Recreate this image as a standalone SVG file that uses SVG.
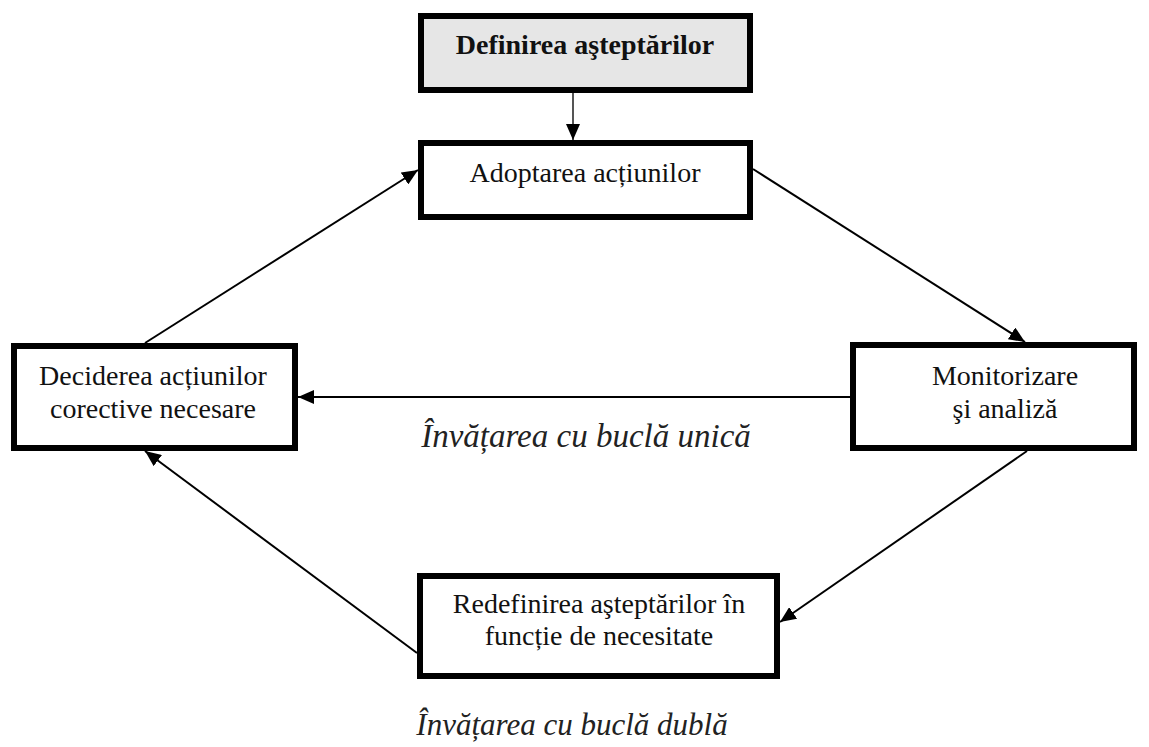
<svg xmlns="http://www.w3.org/2000/svg" width="1149" height="747" viewBox="0 0 1149 747">
<defs>
<marker id="arr" markerUnits="userSpaceOnUse" markerWidth="16" markerHeight="14" refX="16" refY="7" orient="auto">
<path d="M0,0 L16,7 L0,14 z" fill="#000"/>
</marker>
<style>
.box{fill:#fff;stroke:#000;stroke-width:6}
.gray{fill:#e6e6e6}
.t{font-family:"Liberation Serif","Times New Roman",serif;font-size:28px;fill:#111;text-anchor:middle}
.b{font-weight:bold}
.it{font-family:"Liberation Serif","Times New Roman",serif;font-style:italic;fill:#222;text-anchor:middle}
.c{stroke:#000;stroke-width:2;fill:none;marker-end:url(#arr)}
</style>
</defs>
<rect width="1149" height="747" fill="#fff"/>
<g id="connectors">
<line class="c" x1="573" y1="93" x2="573" y2="140" style="stroke:#555"/>
<line class="c" x1="753" y1="169" x2="1025" y2="342"/>
<line class="c" x1="850" y1="397" x2="298" y2="397"/>
<line class="c" x1="1027" y1="451" x2="780" y2="622"/>
<line class="c" x1="417" y1="653" x2="145" y2="451"/>
<line class="c" x1="145" y1="343" x2="418" y2="170"/>
</g>
<g id="definirea">
<rect class="box gray" x="421" y="16" width="329" height="74"/>
<text class="t b" x="585" y="54">Definirea aşteptărilor</text>
</g>
<g id="adoptarea">
<rect class="box" x="421" y="143" width="329" height="74"/>
<text class="t" x="585" y="182">Adoptarea acțiunilor</text>
</g>
<g id="deciderea">
<rect class="box" x="14" y="346" width="281" height="102"/>
<text class="t" x="153" y="385">Deciderea acțiunilor</text>
<text class="t" x="153" y="418">corective necesare</text>
</g>
<g id="monitorizare">
<rect class="box" x="853" y="345" width="281" height="103"/>
<text class="t" x="1005" y="385">Monitorizare</text>
<text class="t" x="1005" y="418">şi analiză</text>
</g>
<g id="redefinirea">
<rect class="box" x="420" y="576" width="357" height="100"/>
<text class="t" x="599" y="613">Redefinirea aşteptărilor în</text>
<text class="t" x="599" y="645">funcție de necesitate</text>
</g>
<g id="labels">
<text class="it" x="586" y="447" font-size="33">Învățarea cu buclă unică</text>
<text class="it" x="572" y="735" font-size="31">Învățarea cu buclă dublă</text>
</g>
</svg>
